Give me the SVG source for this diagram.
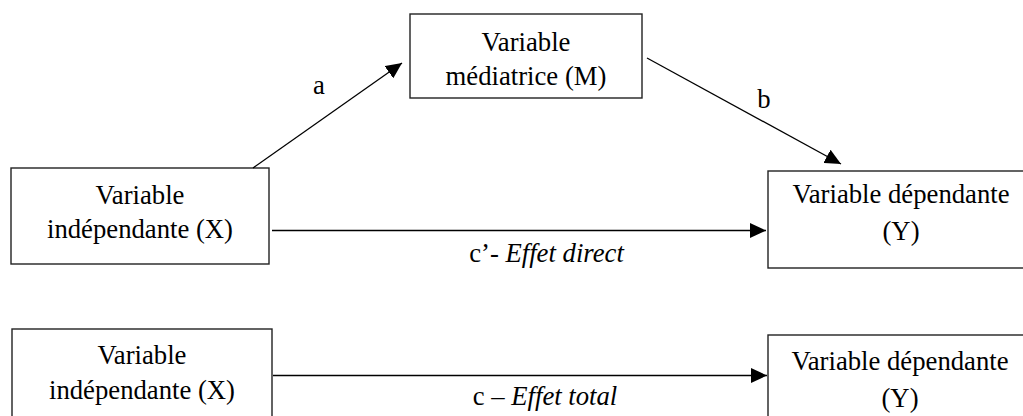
<svg xmlns="http://www.w3.org/2000/svg" width="1023" height="416" viewBox="0 0 1023 416">
  <style>
    .box { fill: #ffffff; stroke: #222222; stroke-width: 1.4; }
    .edge { fill: none; stroke: #000000; stroke-width: 1.3; marker-end: url(#arrow); }
    text { font-family: 'Liberation Serif', 'DejaVu Serif', serif; font-size: 26.7px; fill: #000000; }
    .mid { text-anchor: middle; }
    .it { font-style: italic; }
  </style>
  <defs>
    <marker id="arrow" viewBox="0 0 16 15" refX="16" refY="7.5" markerWidth="16" markerHeight="15" markerUnits="userSpaceOnUse" orient="auto">
      <path d="M0,0 L16,7.5 L0,15 z" fill="#000000"/>
    </marker>
  </defs>
  <rect width="1023" height="416" fill="#ffffff"/>

  <!-- mediation model -->
  <g id="node-x">
    <rect class="box" x="11" y="168" width="258" height="96"/>
    <text class="mid" x="140" y="204" font-family="Liberation Serif, serif">Variable</text>
    <text class="mid" x="140" y="238" font-family="Liberation Serif, serif">indépendante (X)</text>
  </g>
  <g id="node-m">
    <rect class="box" x="410" y="14" width="232" height="84"/>
    <text class="mid" x="526" y="51">Variable</text>
    <text class="mid" x="526" y="85">médiatrice (M)</text>
  </g>
  <g id="node-y">
    <rect class="box" x="768" y="171" width="270" height="97"/>
    <text class="mid" x="901" y="203">Variable dépendante</text>
    <text class="mid" x="901" y="240">(Y)</text>
  </g>

  <!-- total effect model -->
  <g id="node-x-total">
    <rect class="box" x="12" y="329" width="260" height="100"/>
    <text class="mid" x="142" y="364">Variable</text>
    <text class="mid" x="142" y="399">indépendante (X)</text>
  </g>
  <g id="node-y-total">
    <rect class="box" x="768" y="335" width="270" height="100"/>
    <text class="mid" x="900" y="370">Variable dépendante</text>
    <text class="mid" x="900" y="407">(Y)</text>
  </g>

  <g id="connectors">
    <line class="edge" x1="253" y1="168" x2="402" y2="63"/>
    <line class="edge" x1="647" y1="58" x2="841" y2="164"/>
    <line class="edge" x1="272" y1="230.5" x2="766" y2="230.5"/>
    <line class="edge" x1="273" y1="375.5" x2="767" y2="375.5"/>
    <text class="mid" x="319" y="94">a</text>
    <text class="mid" x="764" y="108">b</text>
    <text class="mid" x="546.5" y="262">c’- <tspan class="it">Effet direct</tspan></text>
    <text class="mid" x="545" y="405">c – <tspan class="it">Effet total</tspan></text>
  </g>
</svg>
